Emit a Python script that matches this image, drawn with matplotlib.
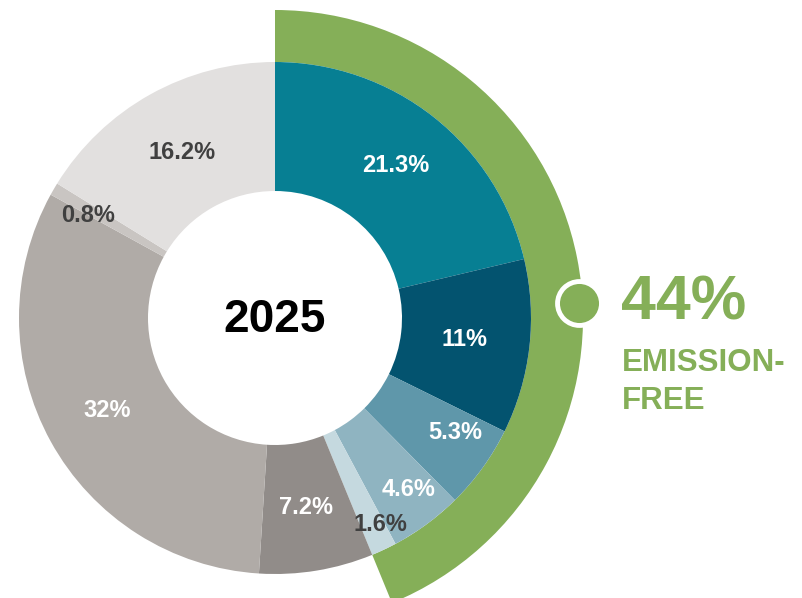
import matplotlib.pyplot as plt
import numpy as np

plt.rcParams['font.family'] = ['Liberation Sans', 'DejaVu Sans']

# shares of the 2025 mix (clockwise from top)
labels = ["21.3%", "11%", "5.3%", "4.6%", "1.6%", "7.2%", "32%", "0.8%", "16.2%"]
values = [21.3, 11, 5.3, 4.6, 1.6, 7.2, 32, 0.8, 16.2]
colors = ["#077F93", "#03536F", "#5F97AA", "#8FB4C1", "#C5D9DF",
          "#918C89", "#B0ABA7", "#C9C5C2", "#E2E0DF"]
text_colors = ["white", "white", "white", "white", "#404040",
               "white", "white", "#404040", "#404040"]
# emission-free part = first five shares
n_free = 5
green = "#85AF58"

W, H = 803, 598
cx, cy = 275, H - 318
r_out, r_in = 256, 127

fig = plt.figure(figsize=(W / 100, H / 100), dpi=100)
ax = fig.add_axes([0, 0, 1, 1])

# outer green ring marking emission-free share
free = sum(values[:n_free])
ax.pie([free, 100 - free], colors=[green, 'none'], startangle=90, counterclock=False,
       center=(cx, cy), radius=308, wedgeprops=dict(width=308 - r_out, linewidth=0),
       frame=True)

ax.pie(values, colors=colors, startangle=90, counterclock=False,
       center=(cx, cy), radius=r_out, wedgeprops=dict(width=r_out - r_in, linewidth=0),
       frame=True)
ax.set_xlim(0, W)
ax.set_ylim(0, H)
ax.set_aspect('equal')
ax.axis('off')

# label placement: radial distance and small angle nudge per slice
lab_r = [194, 191, 214, 217, 232, 192, 192, 213, 190]
lab_da = [0, 0, 3.4, 1.6, 1.8, 0, 0, 1.4, 0]
start = 90
for i, v in enumerate(values):
    mid = start - v * 3.6 / 2
    start -= v * 3.6
    a = np.deg2rad(mid + lab_da[i])
    ax.text(cx + lab_r[i] * np.cos(a), cy + lab_r[i] * np.sin(a), labels[i],
            ha='center', va='center', fontsize=17, fontweight='bold', color=text_colors[i])

ax.text(cx, H - 320, "2025", ha='center', va='center', fontsize=33,
        fontweight='bold', color='black')

# marker dot + callout
ax.scatter([579], [H - 303], s=1000, color=green,
           edgecolor='white', linewidth=3.5, zorder=5)
ax.text(621, H - 303, "44%", ha='left', va='center', fontsize=45,
        fontweight='bold', color=green)
ax.text(622, H - 363, "EMISSION-", ha='left', va='center', fontsize=22.5,
        fontweight='bold', color=green)
ax.text(622, H - 401, "FREE", ha='left', va='center', fontsize=22.5,
        fontweight='bold', color=green)

fig.savefig("out.png", dpi=100)
